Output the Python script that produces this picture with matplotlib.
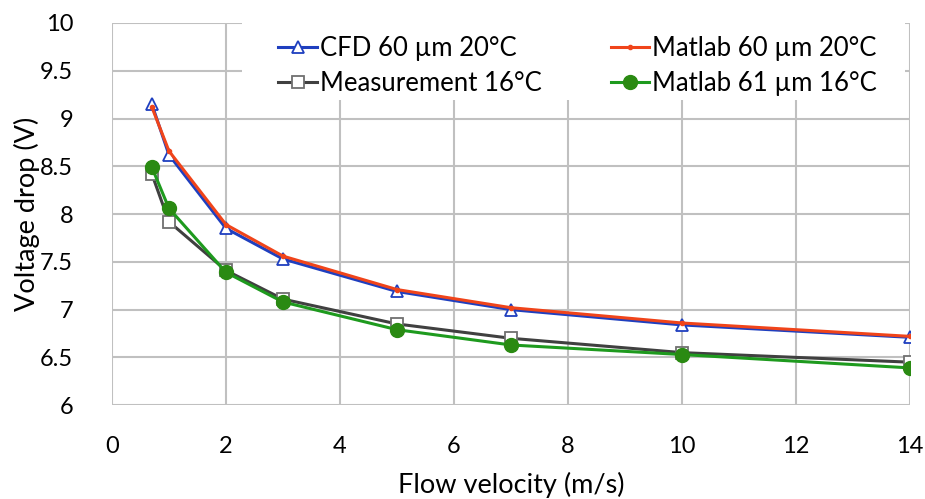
import matplotlib.pyplot as plt
from matplotlib.patches import Rectangle

plt.rcParams['font.family'] = ['Lato', 'DejaVu Sans']

velocity = [0.7, 1, 2, 3, 5, 7, 10, 14]
cfd_60_20 = [9.15, 8.62, 7.85, 7.53, 7.19, 7.00, 6.84, 6.71]
matlab_60_20 = [9.12, 8.66, 7.89, 7.56, 7.21, 7.02, 6.86, 6.72]
measurement_16 = [8.42, 7.92, 7.41, 7.11, 6.85, 6.70, 6.55, 6.45]
matlab_61_16 = [8.49, 8.06, 7.39, 7.08, 6.79, 6.63, 6.53, 6.39]

fig = plt.figure(figsize=(9.25, 4.99), dpi=100)
ax = fig.add_axes([0.121, 0.188, 0.863, 0.766])

l1, = ax.plot(velocity, cfd_60_20, color="#1f3fbf", lw=2.2, marker="^", ms=9,
              mfc="white", mec="#1f3fbf", mew=1.3, label="CFD 60 µm 20°C", zorder=3)
l2, = ax.plot(velocity, matlab_60_20, color="#f0441a", lw=2.2, marker="o", ms=3,
              mfc="#f0441a", mec="#f0441a", label="Matlab 60 µm 20°C", zorder=4)
l3, = ax.plot(velocity, measurement_16, color="#404040", lw=2.2, marker="s", ms=9,
              mfc="white", mec="#707070", mew=1.3, label="Measurement 16°C", zorder=3)
l4, = ax.plot(velocity, matlab_61_16, color="#1e9a1e", lw=2.2, marker="o", ms=10,
              mfc="#2a8a12", mec="#2a8a12", label="Matlab 61 µm 16°C", zorder=4)

ax.set_xlim(0, 14)
ax.set_ylim(6, 10)
ax.set_xticks(range(0, 15, 2))
ax.set_yticks([6, 6.5, 7, 7.5, 8, 8.5, 9, 9.5, 10])
ax.set_yticklabels(["6", "6.5", "7", "7.5", "8", "8.5", "9", "9.5", "10"])
ax.grid(True, color="#c0c0c0", lw=1.5)
ax.set_axisbelow(True)
for s in ax.spines.values():
    s.set_visible(False)
ax.tick_params(length=0, labelsize=17, pad=28)
ax.tick_params(axis="x", pad=22)

ax.set_xlabel("Flow velocity (m/s)", fontsize=19.5, va="bottom")
ax.xaxis.set_label_coords(0.5, -0.243)
ax.set_ylabel("Voltage drop (V)", fontsize=19.5)
ax.yaxis.set_label_coords(-0.09, 0.5)

# white area behind the legend (Excel legend box, no border)
ax.add_patch(Rectangle((0.163, 0.799), 0.831, 0.201, transform=ax.transAxes,
                       facecolor="white", edgecolor="none", zorder=1.5))

# row-wise order like Excel: CFD, Matlab 60 / Measurement, Matlab 61
leg = ax.legend([l1, l3, l2, l4],
                [l1.get_label(), l3.get_label(), l2.get_label(), l4.get_label()],
                ncol=2, loc="upper left", bbox_to_anchor=(0.186, 1.012),
                fontsize=18.5, frameon=False, handlelength=1.5,
                handletextpad=0.1, columnspacing=2.7, labelspacing=0.36,
                borderpad=0.2)

plt.savefig("out.png", dpi=100)
